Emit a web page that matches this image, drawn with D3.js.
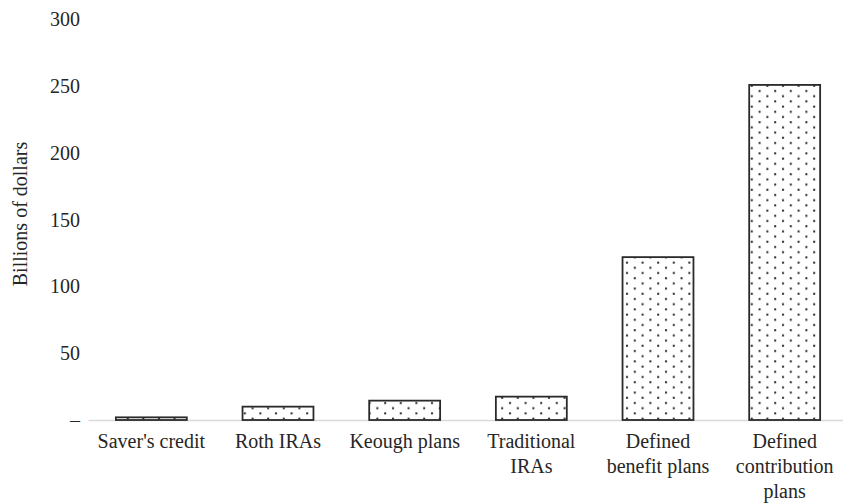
<!DOCTYPE html>
<html>
<head>
<meta charset="utf-8">
<script src="https://cdn.jsdelivr.net/npm/d3@7"></script>
<style>
  html, body { margin: 0; padding: 0; background: #fff; }
  svg { display: block; }
  text { font-family: "Liberation Serif", "Times New Roman", serif; fill: #262626; }
</style>
</head>
<body>
<svg id="chart" width="843" height="504"></svg>
<script>
// ---- data ----
const categories = ["Saver's credit", "Roth IRAs", "Keough plans", "Traditional\nIRAs", "Defined\nbenefit plans", "Defined\ncontribution\nplans"];
const values = [2, 10, 14.5, 17.5, 122, 251];
const yTicks = [0, 50, 100, 150, 200, 250, 300];
const yTickLabels = ["\u2013", "50", "100", "150", "200", "250", "300"];
const yTitle = "Billions of dollars";

// ---- layout ----
const svg = d3.select("#chart");
const x = d3.scaleBand().domain(categories).range([88, 848]).paddingInner(0.44).paddingOuter(0.22);
const y = d3.scaleLinear().domain([0, 300]).range([420, 19.5]);

// dotted pattern
const defs = svg.append("defs");
const pat = defs.append("pattern")
  .attr("id", "dots").attr("patternUnits", "userSpaceOnUse")
  .attr("width", 15.6).attr("height", 10.4);
pat.append("rect").attr("width", 15.6).attr("height", 10.4).attr("fill", "#fff");
pat.append("rect").attr("x", 2).attr("y", 1.6).attr("width", 2).attr("height", 2).attr("fill", "#2a2a2a");
pat.append("rect").attr("x", 9.8).attr("y", 6.8).attr("width", 2).attr("height", 2).attr("fill", "#2a2a2a");

// y axis labels
const yAxis = d3.axisLeft(y).tickValues(yTicks)
  .tickFormat((d, i) => yTickLabels[i]).tickSize(0).tickPadding(0);
const gy = svg.append("g").attr("transform", "translate(80,0)").call(yAxis);
gy.select(".domain").remove();
gy.selectAll("text").attr("font-size", 20).attr("font-family", null).attr("fill", "#262626");

// x axis line
const xAxis = d3.axisBottom(x).tickSize(0).tickSizeOuter(0).tickFormat("");
const gx = svg.append("g").attr("transform", "translate(0,420)").call(xAxis);
gx.select(".domain").attr("stroke", "#d9d9d9").attr("stroke-width", 1.3);

// bars
svg.append("g").selectAll("rect").data(values).join("rect")
  .attr("x", (d, i) => x(categories[i]))
  .attr("y", d => y(d))
  .attr("width", x.bandwidth())
  .attr("height", d => y(0) - y(d))
  .attr("fill", "url(#dots)")
  .attr("stroke", "#2a2a2a").attr("stroke-width", 1.8);

// x labels
const lbl = svg.append("g").selectAll("text").data(categories).join("text")
  .attr("text-anchor", "middle").attr("font-size", 20)
  .attr("transform", d => `translate(${x(d) + x.bandwidth() / 2},448)`);
lbl.selectAll("tspan").data(d => d.split("\n")).join("tspan")
  .attr("x", 0).attr("y", (d, i) => i * 25).text(d => d);

// y title
svg.append("text")
  .attr("transform", "translate(27,214) rotate(-90)")
  .attr("text-anchor", "middle").attr("font-size", 20)
  .text(yTitle);
</script>
</body>
</html>
